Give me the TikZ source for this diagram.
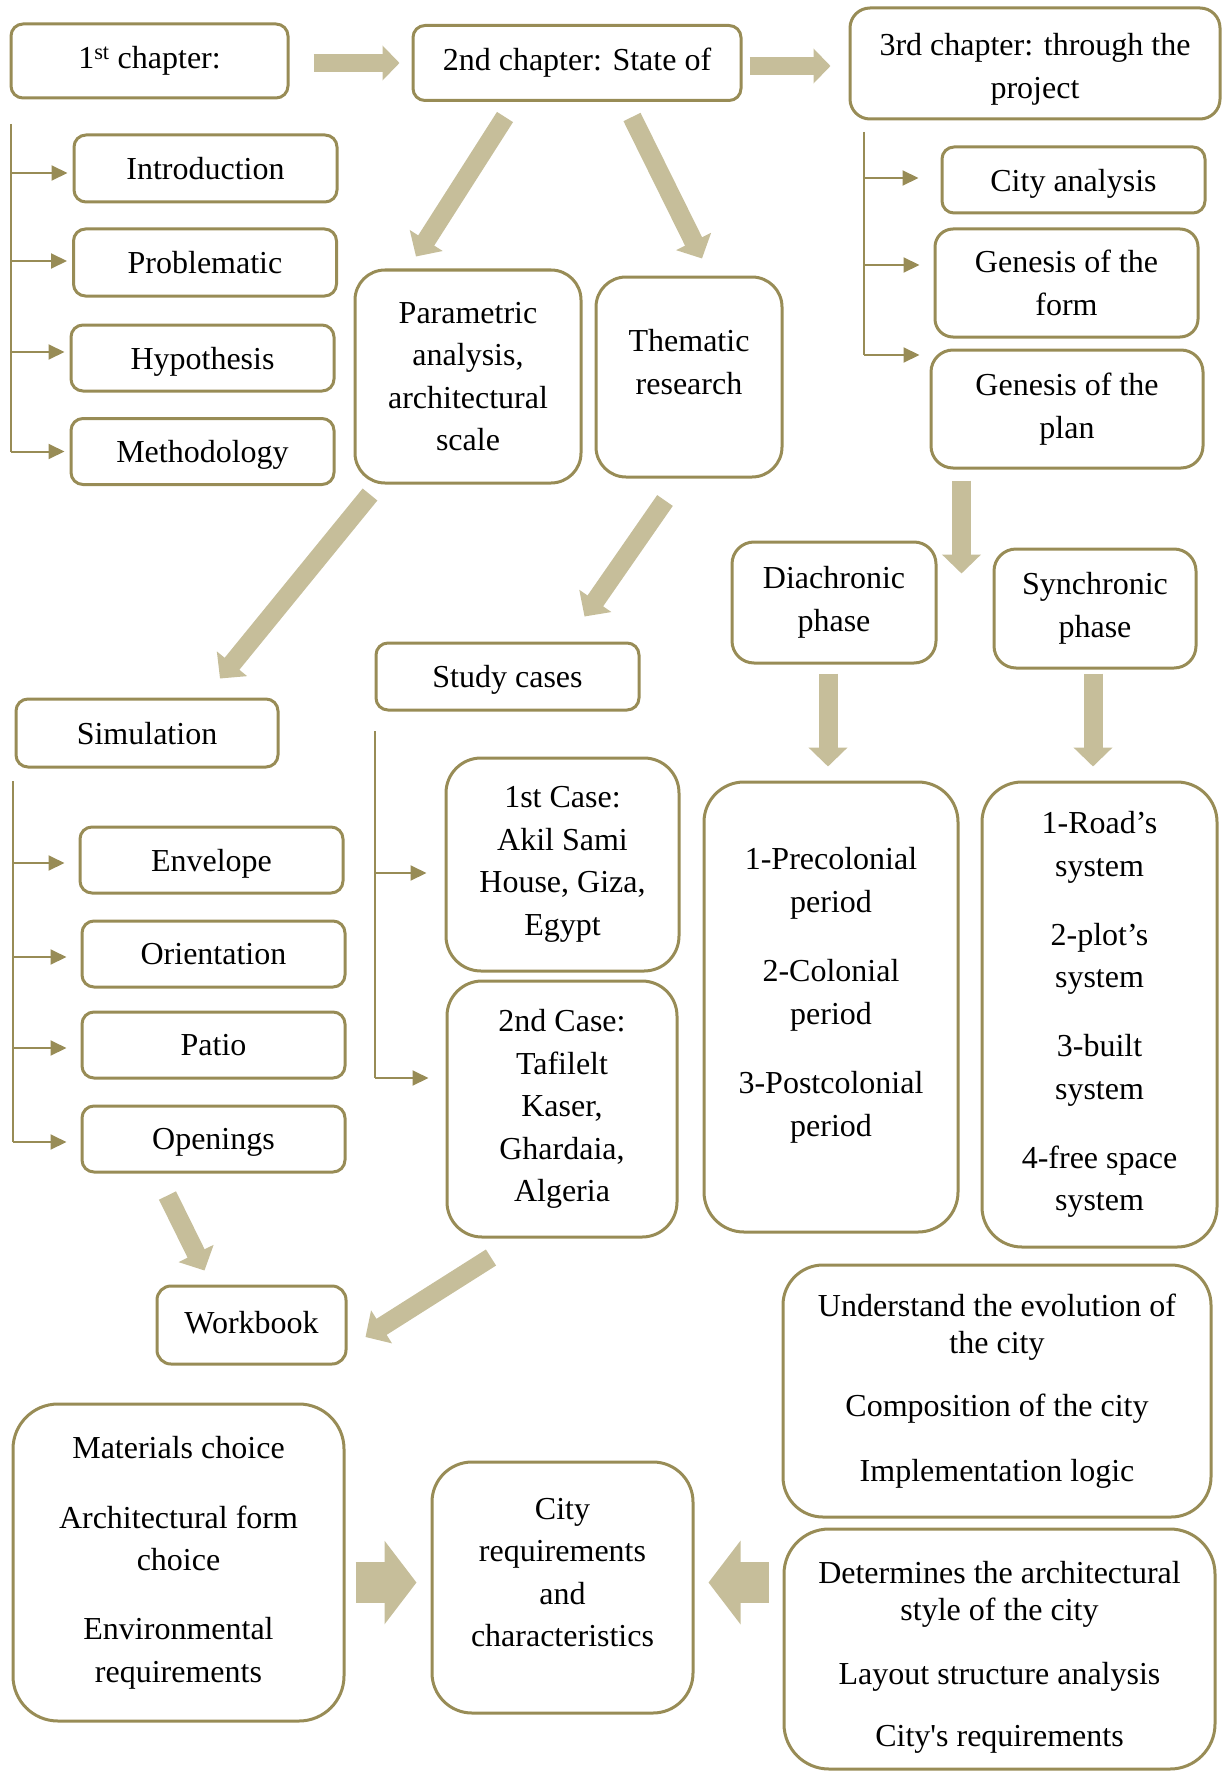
\documentclass[tikz,border=0pt]{standalone}
\usepackage{fontspec}
\setmainfont{Liberation Serif}
\usepackage{tikz}
\usetikzlibrary{arrows.meta,positioning,calc}
\definecolor{boxline}{RGB}{152,140,86}
\definecolor{arrowtan}{RGB}{198,190,154}

\begin{document}
\begin{tikzpicture}[x=1pt,y=-1pt,
	box/.style={draw=boxline,line width=3pt,rounded corners=30pt,align=center,inner sep=0pt,font=\fontsize{32}{42.5}\selectfont},
	tag/.style={box,rounded corners=12pt,text depth=0pt},
	trunk/.style={draw=boxline,line width=2pt},
	feed/.style={draw=boxline,line width=2pt,-{Triangle[length=16pt,width=15pt]}},
	chaparrow/.style={draw=arrowtan,line width=17.5pt,-{Triangle[length=17pt,width=34pt]}},
	bigarrow/.style={draw=arrowtan,line width=19pt,-{Triangle[length=19pt,width=38pt]}},
	blockarrow/.style={draw=arrowtan,line width=41pt,-{Triangle[length=32pt,width=82pt]}}]
	\useasboundingbox (0,0) rectangle (1222,1771);

	% chapters
	\node[box,rounded corners=12pt,minimum width=277pt,minimum height=74pt] (chap1) at (149.5,61) {1\textsuperscript{st} chapter:};
	\node[box,rounded corners=12pt,minimum width=328pt,minimum height=75pt] (chap2) at (577,63) {2nd chapter: State of};
	\node[box,rounded corners=20pt,minimum width=370pt,minimum height=111pt,text depth=0pt,text height=69.5pt] (chap3) at (1035,63.5) {3rd chapter: through the\\project};
	\draw[chaparrow] ($(chap1.east)+(24,2)$) -- ($(chap2.west)+(-12,0)$);
	\draw[chaparrow] ($(chap2.east)+(7,3)$) -- ($(chap3.west)+(-18,2.5)$);

	% first chapter
	\node[tag,minimum width=263pt,minimum height=67pt] (intro) at (205.5,168.5) {Introduction};
	\node[tag,minimum width=263pt,minimum height=67pt] (prob) at (205,262.5) {Problematic};
	\node[tag,minimum width=263pt,minimum height=66pt] (hyp) at (202.5,358) {Hypothesis};
	\node[tag,minimum width=263pt,minimum height=66pt] (meth) at (202.5,451.5) {Methodology};
	\coordinate (trunkA) at (11,124);
	\draw[trunk] (trunkA) -- (trunkA |- meth.west);
	\foreach \n/\dy in {intro/4.5,prob/-1.5,hyp/-6,meth/0}
		\draw[feed,shorten >=5pt] ($(trunkA |- \n.west)+(0,\dy)$) -- ($(\n.west)+(0,\dy)$);

	% second chapter
	\node[box,minimum width=226pt,minimum height=213pt] (param) at (468,376.5) {Parametric\\analysis,\\architectural\\scale};
	\node[box,minimum width=186pt,minimum height=200pt] (them) at (689,377) {Thematic\\research\\[-12pt]\mbox{}};
	\draw[bigarrow] ($(chap2.south)+(-72,15)$) -- ($(param.north)+(-52,-12)$);
	\draw[bigarrow] ($(chap2.south)+(55,15)$) -- ($(them.north)+(13,-17)$);

	\node[tag,minimum width=262pt,minimum height=68pt] (sim) at (147,733) {Simulation};
	\node[tag,minimum width=263pt,minimum height=67pt] (study) at (507.5,676.5) {Study cases};
	\draw[bigarrow] ($(param.south)+(-98,10)$) -- ($(sim.north)+(73,-19)$);
	\draw[bigarrow] ($(them.south)+(-24,22)$) -- ($(study.north)+(77,-25)$);

	\node[tag,minimum width=263pt,minimum height=66pt] (env) at (211.5,860) {Envelope};
	\node[tag,minimum width=263pt,minimum height=66pt] (ori) at (213.5,954) {Orientation};
	\node[tag,minimum width=263pt,minimum height=66pt] (patio) at (213.5,1045) {Patio};
	\node[tag,minimum width=263pt,minimum height=66pt] (open) at (213.5,1139) {Openings};
	\coordinate (trunkD) at (13,781);
	\draw[trunk] (trunkD) -- ($(trunkD |- open.west)+(0,3)$);
	\foreach \n in {env,ori,patio,open}
		\draw[feed,shorten >=14pt] ($(trunkD |- \n.west)+(0,3)$) -- ($(\n.west)+(0,3)$);

	\node[box,rounded corners=35pt,minimum width=233pt,minimum height=213pt] (case1) at (562.5,864.5) {1st Case:\\Akil Sami\\House, Giza,\\Egypt};
	\node[box,rounded corners=35pt,minimum width=230pt,minimum height=256pt] (case2) at (562,1109) {2nd Case:\\Tafilelt\\Kaser,\\Ghardaia,\\Algeria};
	\coordinate (trunkS) at (375,731);
	\draw[trunk] (trunkS) -- ($(trunkS |- case2.west)+(0,-31)$);
	\foreach \n/\dy/\s in {case1/8.5/18,case2/-31/17}
		\draw[feed,shorten >=\s pt] ($(trunkS |- \n.west)+(0,\dy)$) -- ($(\n.west)+(0,\dy)$);

	\node[tag,rounded corners=14pt,minimum width=189pt,minimum height=78pt,text depth=6pt] (work) at (251.5,1325) {Workbook};
	\draw[bigarrow] ($(open.south)+(-46,22)$) -- ($(work.north)+(-47,-14)$);
	\draw[bigarrow] ($(case2.south)+(-71,19)$) -- ($(work.east)+(18,12)$);

	% third chapter
	\node[tag,minimum width=263pt,minimum height=66pt] (city) at (1073.5,180) {City analysis};
	\node[box,rounded corners=18pt,minimum width=263pt,minimum height=108pt] (form) at (1066.5,283) {Genesis of the\\form};
	\node[box,rounded corners=22pt,minimum width=272pt,minimum height=118pt] (plan) at (1067,409) {Genesis of the\\plan};
	\coordinate (trunkC) at (864,132);
	\draw[trunk] (trunkC) -- ($(trunkC |- plan.west)+(0,-54)$);
	\foreach \n/\dy/\s in {city/-2/22,form/-18/14,plan/-54/10}
		\draw[feed,shorten >=\s pt] ($(trunkC |- \n.west)+(0,\dy)$) -- ($(\n.west)+(0,\dy)$);

	\node[box,rounded corners=22pt,minimum width=204pt,minimum height=121pt] (dia) at (834,602.5) {Diachronic\\phase};
	\node[box,rounded corners=22pt,minimum width=202pt,minimum height=119pt] (syn) at (1095,608.5) {Synchronic\\phase};
	\draw[bigarrow] ($(plan.south)+(-105.5,11)$) -- ($(plan.south)+(-105.5,104)$);

	\node[box,rounded corners=40pt,minimum width=254pt,minimum height=450pt] (period) at (831,1007) {1-Precolonial\\period\\[27pt]2-Colonial\\period\\[27pt]3-Postcolonial\\period\\[-12pt]\mbox{}};
	\node[box,rounded corners=40pt,minimum width=235pt,minimum height=465pt] (road) at (1099.5,1014.5) {1-Road’s\\system\\[26.5pt]2-plot’s\\system\\[26.5pt]3-built\\system\\[26.5pt]4-free space\\system};
	\draw[bigarrow] ($(dia.south)+(-6,9)$) -- ($(period.north)+(-3,-14)$);
	\draw[bigarrow] ($(syn.south)+(-2,4)$) -- ($(road.north)+(-6.5,-14)$);

	% synthesis
	\node[box,rounded corners=45pt,minimum width=331pt,minimum height=317pt] (mat) at (178.5,1562.5) {Materials choice\\[27.5pt]Architectural form\\choice\\[26.5pt]Environmental\\requirements};
	\node[box,rounded corners=40pt,minimum width=261pt,minimum height=251pt] (creq) at (562.5,1587.5) {City\\requirements\\and\\characteristics\\[-12pt]\mbox{}};
	\node[box,rounded corners=40pt,minimum width=428pt,minimum height=252pt,font=\fontsize{32}{37.5}\selectfont] (under) at (997,1391) {Understand the evolution of\\the city\\[25.5pt]Composition of the city\\[27.5pt]Implementation logic};
	\node[box,rounded corners=45pt,minimum width=431pt,minimum height=240pt,font=\fontsize{32}{37.5}\selectfont,text depth=0pt,text height=194pt] (det) at (999.5,1649) {Determines the architectural\\style of the city\\[26pt]Layout structure analysis\\[24.5pt]City\textquotesingle s requirements};
	\draw[blockarrow] ($(mat.east)+(10,20)$) -- ($(creq.west)+(-14,-5)$);
	\draw[blockarrow] ($(det.west)+(-14,-66.5)$) -- ($(creq.east)+(14,-5)$);
\end{tikzpicture}
\end{document}
